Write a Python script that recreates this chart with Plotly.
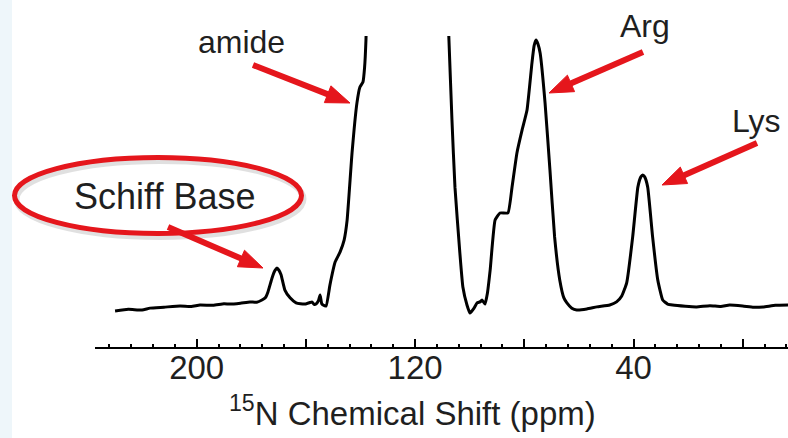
import math
import plotly.graph_objects as go

# ---------------- data ----------------
shift_ppm = [
    229.9, 225, 220, 217.1, 212, 206.1, 202, 198.8, 194, 190, 187.8, 184, 180.5, 178, 176.1,
    174.8, 173.9, 172.4, 171.4, 170.6, 169.9, 169.1, 167.7, 165.8, 163.6, 162, 160.3, 158.5,
    157.8, 157, 156.3, 155.4, 154.8, 154.2, 153.7, 152.6, 151.2, 149.3, 147.5, 146.0, 144.9,
    143.1, 141.3, 140.2, 139.1, 138.5, 138.0, 137.3, 135, 132, 128, 124, 120, 116, 112, 109,
    107.6, 106.5, 105.4, 103.6, 102.5, 101.0, 99.9, 98.4, 97.3, 96.2, 95.5, 94.4, 93.5, 92.5,
    90.7, 88.9, 86.0, 84.5, 82.7, 80.8, 79.0, 77.2, 76.4, 75.7, 75.0, 74.2, 72.4, 70.6, 68.9,
    67.0, 65.5, 64.4, 62.6, 60.8, 57.1, 53.4, 48.7, 46.2, 44.3, 42.5, 40.3, 38.4, 37.3, 36.6,
    35.9, 34.8, 33.0, 31.1, 29.3, 27.5, 25.7, 21, 16.9, 12, 8, 4.8, 0, -4, -7.5, -12, -16.6,
]
intensity = [
    -0.3, 0.2, 0.0, 0.6, 0.9, 1.3, 1.1, 1.6, 1.5, 2.0, 1.9, 2.2, 2.6, 2.5, 3.2,
    4.0, 5.8, 10.3, 12.6, 13.5, 12.8, 11.3, 6.4, 3.9, 2.3, 2.0, 1.9, 2.4,
    2.6, 1.8, 1.9, 3.0, 4.8, 2.0, 1.6, 1.3, 8.0, 15.4, 18.6, 22.5, 28.9,
    50.5, 66.6, 71.7, 73.3, 78.0, 86.8, 110, 160, 220, 280, 310, 290, 240, 180, 120,
    86.8, 61.1, 39.5, 18.3, 7.4, 1.6, -1.0, 0.6, 2.3, 2.6, 3.2, 1.9, 5.5, 12.9,
    28.9, 31.2, 31.2, 39.5, 50.5, 57.9, 64.3, 79.4, 85.0, 86.8, 85.5, 82.6, 66.6, 45.0, 23.5,
    9.6, 3.9, 2.3, 0.6, 0.0, 0.3, 1.0, 1.6, 2.6, 4.5, 8.7, 23.5, 39.5, 42.8, 43.4,
    42.8, 39.5, 23.5, 9.6, 3.2, 1.9, 1.6, 1.2, 1.0, 1.4, 1.1, 1.6, 1.3, 0.9, 1.0, 1.5, 1.6,
]
major_ticks = [200, 160, 120, 80, 40, 0]
labeled_ticks = [200, 120, 40]
labeled_text = ["200", "120", "40"]
x_title = "<sup>15</sup>N Chemical Shift (ppm)"
peak_labels = ["amide", "Arg", "Lys", "Schiff Base"]

# ---------------- layout geometry ----------------
W, H = 788, 438
L, R, T, B = 95, 0, 36, 91
PW, PH = W - L - R, H - T - B
RED = "#e5161c"
TXT = "#1f1f1f"
FONT = "Liberation Sans, Arial, sans-serif"


def px(x):  # pixel -> paper x
    return (x - L) / PW


def py(y):  # pixel -> paper y
    return (H - B - y) / PH


fig = go.Figure()
fig.add_trace(go.Scatter(
    x=shift_ppm, y=intensity, mode="lines",
    line=dict(color="black", width=3, shape="spline", smoothing=0.4),
    hoverinfo="skip", showlegend=False,
))
# invisible carrier trace for the labelled tick axis
fig.add_trace(go.Scatter(x=[labeled_ticks[0]], y=[0], xaxis="x2", mode="markers",
                         marker=dict(opacity=0), hoverinfo="skip", showlegend=False))

shapes = []
shapes.append(dict(type="rect", xref="paper", yref="paper", x0=px(0), x1=px(12),
                   y0=py(H), y1=py(0), line=dict(width=0), fillcolor="#eef6fa", layer="below"))
shapes.append(dict(type="circle", xref="paper", yref="paper", x0=px(16.5), x1=px(303.5),
                   y0=py(237), y1=py(161), line=dict(color="rgba(0,0,0,0.12)", width=6)))
shapes.append(dict(type="circle", xref="paper", yref="paper", x0=px(14.5), x1=px(301.5),
                   y0=py(233.5), y1=py(157.5), line=dict(color=RED, width=5)))


def arrow(tail, tip, head_len=24, half_w=9, width=6):
    dx, dy = tip[0] - tail[0], tip[1] - tail[1]
    n = math.hypot(dx, dy)
    ux, uy = dx / n, dy / n
    bx, by = tip[0] - ux * head_len, tip[1] - uy * head_len
    sx, sy = tip[0] - ux * head_len * 0.7, tip[1] - uy * head_len * 0.7
    pxp, pyp = -uy, ux
    shapes.append(dict(type="line", xref="paper", yref="paper",
                       x0=px(tail[0]), y0=py(tail[1]), x1=px(sx), y1=py(sy),
                       line=dict(color=RED, width=width)))
    p1 = (bx + pxp * half_w, by + pyp * half_w)
    p2 = (bx - pxp * half_w, by - pyp * half_w)
    path = "M{},{} L{},{} L{},{} Z".format(px(tip[0]), py(tip[1]), px(p1[0]), py(p1[1]),
                                           px(p2[0]), py(p2[1]))
    shapes.append(dict(type="path", xref="paper", yref="paper", path=path,
                       fillcolor=RED, line=dict(color=RED, width=1)))


arrow((253, 65), (350, 103))
arrow((168, 227), (263, 268))
arrow((643, 52), (549, 93))
arrow((757, 143), (662, 185))

ann = []
label_pos = [(241, 42, 32), (645, 26, 32), (756, 121, 32), (164, 197, 36)]
for txt, (x, y, s) in zip(peak_labels, label_pos):
    ann.append(dict(text=txt, xref="paper", yref="paper", x=px(x), y=py(y),
                    xanchor="center", yanchor="middle", showarrow=False,
                    font=dict(size=s, color=TXT, family=FONT)))
ann.append(dict(text=x_title, xref="paper", yref="paper", x=px(412), y=py(411),
                xanchor="center", yanchor="middle", showarrow=False,
                font=dict(size=33, color=TXT, family=FONT)))

xrange = [200 + (196.7 - L) / 2.73, 200 - (W - R - 196.7) / 2.73]
fig.update_layout(
    width=W, height=H, margin=dict(l=L, r=R, t=T, b=B),
    paper_bgcolor="white", plot_bgcolor="white",
    shapes=shapes, annotations=ann, showlegend=False,
    xaxis=dict(
        range=xrange, tickvals=major_ticks, showticklabels=False,
        ticks="inside", ticklen=8, tickwidth=1.5, tickcolor="black",
        showline=True, linecolor="black", linewidth=1.5, showgrid=False, zeroline=False,
        minor=dict(ticks="inside", dtick=8, tick0=0, ticklen=3, tickwidth=1.5,
                   tickcolor="black", showgrid=False),
    ),
    xaxis2=dict(
        overlaying="x", matches="x", side="bottom", anchor="y", range=xrange,
        tickvals=labeled_ticks, ticktext=labeled_text, ticks="", showline=False,
        showgrid=False, zeroline=False, ticklabelstandoff=-2,
        tickfont=dict(size=33, color=TXT, family=FONT),
    ),
    yaxis=dict(range=[-11.9, 88.1], visible=False, showgrid=False, zeroline=False),
)

fig.write_html("out.html")
